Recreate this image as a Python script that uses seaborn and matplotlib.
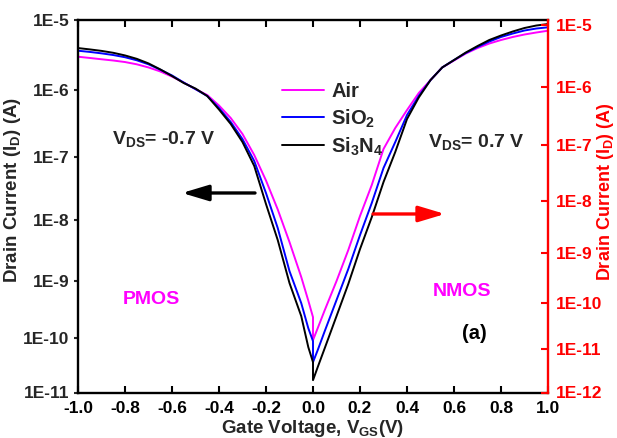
import numpy as np
import pandas as pd
import matplotlib
matplotlib.use("Agg")
import matplotlib.pyplot as plt
from matplotlib.lines import Line2D
import seaborn as sns

# ---------------- data ----------------
v_pmos = [-1.0, -0.95, -0.9, -0.85, -0.8, -0.75, -0.7, -0.65, -0.6, -0.55, -0.5,
          -0.45, -0.4, -0.35, -0.3, -0.25, -0.2, -0.15, -0.1, -0.05, -0.02, 0.0]
v_nmos = [0.0, 0.02, 0.05, 0.1, 0.15, 0.2, 0.25, 0.3, 0.35, 0.4, 0.45, 0.5,
          0.55, 0.6, 0.65, 0.7, 0.75, 0.8, 0.85, 0.9, 0.95, 1.0]

air_pmos = [2.99e-6, 2.87e-6, 2.75e-6, 2.64e-6, 2.51e-6, 2.33e-6, 2.10e-6, 1.84e-6, 1.55e-6,
            1.27e-6, 1.02e-6, 8.36e-7, 5.87e-7, 3.83e-7, 2.21e-7, 1.06e-7, 4.29e-8, 1.50e-8,
            4.46e-9, 1.17e-9, 4.62e-10, 2.38e-10]
sio2_pmos = [3.64e-6, 3.50e-6, 3.34e-6, 3.16e-6, 2.94e-6, 2.66e-6, 2.33e-6, 1.95e-6, 1.61e-6,
             1.27e-6, 1.02e-6, 8.09e-7, 5.39e-7, 3.34e-7, 1.85e-7, 8.58e-8, 2.73e-8, 7.54e-9,
             1.47e-9, 4.18e-10, 1.52e-10, 8.93e-11]
si3n4_pmos = [3.97e-6, 3.80e-6, 3.62e-6, 3.40e-6, 3.12e-6, 2.79e-6, 2.40e-6, 1.97e-6, 1.58e-6,
              1.25e-6, 1.04e-6, 8.09e-7, 5.12e-7, 3.12e-7, 1.67e-7, 7.20e-8, 1.83e-8, 4.81e-9,
              9.23e-10, 2.48e-10, 6.95e-11, 3.70e-11]

air_nmos = [9.30e-11, 1.52e-10, 3.16e-10, 9.98e-10, 3.29e-9, 1.18e-8, 3.65e-8, 1.31e-7,
            2.72e-7, 5.03e-7, 8.95e-7, 1.38e-6, 2.10e-6, 2.64e-6, 3.32e-6, 3.97e-6, 4.60e-6,
            5.16e-6, 5.69e-6, 6.17e-6, 6.58e-6, 6.97e-6]
sio2_nmos = [3.70e-11, 6.13e-11, 1.35e-10, 4.72e-10, 1.59e-9, 5.80e-9, 1.90e-8, 6.70e-8,
             1.67e-7, 4.24e-7, 8.09e-7, 1.38e-6, 2.10e-6, 2.68e-6, 3.38e-6, 4.11e-6, 4.91e-6,
             5.69e-6, 6.37e-6, 7.02e-6, 7.48e-6, 7.78e-6]
si3n4_nmos = [1.71e-11, 2.99e-11, 6.67e-11, 2.48e-10, 8.87e-10, 3.42e-9, 1.13e-8, 4.06e-8,
              1.18e-7, 3.70e-7, 7.69e-7, 1.38e-6, 2.10e-6, 2.68e-6, 3.43e-6, 4.24e-6, 5.16e-6,
              5.97e-6, 6.80e-6, 7.61e-6, 8.24e-6, 8.65e-6]

series_names = ["Air", "SiO$_2$", "Si$_3$N$_4$"]
series_colors = ["#FF00FF", "#0000FF", "#000000"]

x_ticks = [-1.0, -0.8, -0.6, -0.4, -0.2, 0.0, 0.2, 0.4, 0.6, 0.8, 1.0]
x_tick_labels = ["-1.0", "-0.8", "-0.6", "-0.4", "-0.2", "0.0", "0.2", "0.4", "0.6", "0.8", "1.0"]
left_ticks = [1e-5, 1e-6, 1e-7, 1e-8, 1e-9, 1e-10, 1e-11]
left_tick_labels = ["1E-5", "1E-6", "1E-7", "1E-8", "1E-9", "1E-10", "1E-11"]
right_ticks = [1e-5, 1e-6, 1e-7, 1e-8, 1e-9, 1e-10, 1e-11, 1e-12]
right_tick_labels = ["1E-5", "1E-6", "1E-7", "1E-8", "1E-9", "1E-10", "1E-11", "1E-12"]

# ---------------- style ----------------
sns.set_style("ticks")
plt.rcParams["font.family"] = ["Liberation Sans", "DejaVu Sans"]
plt.rcParams["font.weight"] = "bold"
plt.rcParams["axes.labelweight"] = "bold"
plt.rcParams["mathtext.fontset"] = "custom"
plt.rcParams["mathtext.rm"] = "Liberation Sans:bold"
plt.rcParams["mathtext.bf"] = "Liberation Sans:bold"
plt.rcParams["mathtext.it"] = "Liberation Sans:bold"
plt.rcParams["mathtext.default"] = "bf"


def log_scale_funcs(a, b):
    """slightly compressed logarithmic scale (as in the original figure)"""
    def fwd(y):
        y = np.clip(np.asarray(y, dtype=float), 1e-24, None)
        d = -5.0 - np.log10(y)
        return -(a * d + b * d * d)

    def inv(t):
        pos = -np.asarray(t, dtype=float)
        disc = np.clip(a * a + 4 * b * pos, 0, None)
        d = (-a + np.sqrt(disc)) / (2 * b)
        return 10.0 ** (-5.0 - d)
    return fwd, inv


fig = plt.figure(figsize=(6.17, 4.38), dpi=100)
ax = fig.add_axes([78 / 617, 1 - 392.5 / 438, 470 / 617, 373 / 438])
ax.set_facecolor("white")

rows = []
for name, pm, nm in zip(series_names, [air_pmos, sio2_pmos, si3n4_pmos],
                        [air_nmos, sio2_nmos, si3n4_nmos]):
    for v, i in zip(v_pmos + v_nmos, pm + nm):
        rows.append({"V": v, "I": i, "material": name})
df = pd.DataFrame(rows)

for name, col in zip(series_names, series_colors):
    sub = df[df["material"] == name]
    sns.lineplot(x=sub["V"].values, y=sub["I"].values, ax=ax, color=col, lw=1.4,
                 estimator=None, sort=False, label=name)

ax.set_yscale("function", functions=log_scale_funcs(71.8, -1.61))
ax.set_ylim(1e-11, 1e-5)
ax.set_xlim(-1.0, 1.0)
ax.set_yticks(left_ticks)
ax.set_yticklabels(left_tick_labels)
ax.minorticks_off()
ax.set_xticks(x_ticks)
ax.set_xticklabels(x_tick_labels)
ax.set_xticks(np.arange(-0.9, 1.0, 0.2), minor=True)

for sp in ["left", "bottom", "top"]:
    ax.spines[sp].set_linewidth(1.7)
    ax.spines[sp].set_color("black")
ax.spines["right"].set_visible(False)

ax.tick_params(axis="x", which="major", direction="in", length=5, width=1.5,
               top=True, labelsize=12.5, pad=6, colors="black")
ax.tick_params(axis="x", which="minor", direction="in", length=3, width=1.5, top=True)
ax.tick_params(axis="y", which="major", direction="out", length=3, width=1.5,
               labelsize=12.5, pad=3)

ax.set_xlabel("Gate Voltage, V$_{GS}$(V)", fontsize=13.5, fontweight="bold")
ax.xaxis.set_label_coords(0.5, -0.068)
ax.set_ylabel("Drain Current (I$_D$) (A)", fontsize=13.5, fontweight="bold")
ax.yaxis.set_label_coords(-0.118, 0.543)

# right axis
ax2 = ax.twinx()
ax2.set_yscale("function", functions=log_scale_funcs(63.1, -1.51))
ax2.set_ylim(1e-12, 1.22e-5)
ax2.set_yticks(right_ticks)
ax2.set_yticklabels(right_tick_labels)
ax2.minorticks_off()
for sp in ["left", "bottom", "top"]:
    ax2.spines[sp].set_visible(False)
ax2.spines["right"].set_color("#FF0000")
ax2.spines["right"].set_linewidth(1.7)
ax2.tick_params(axis="y", which="major", direction="in", length=5, width=1.5,
                colors="#FF0000", labelsize=12.5, pad=6)
ax2.set_ylabel("Drain Current (I$_D$) (A)", fontsize=13, fontweight="bold", color="#FF0000")
ax2.yaxis.set_label_coords(1.100, 0.5375)

# legend
handles = [Line2D([], [], color=c, lw=1.4) for c in series_colors]
leg = ax.legend(handles, series_names, loc="upper left", bbox_to_anchor=(0.434, 0.832),
                frameon=False, fontsize=14.5, handlelength=2.1, handletextpad=0.35,
                borderpad=0, borderaxespad=0, labelspacing=0.3)

# annotations
ax.text(0.072, 0.666, "V$_{DS}$= -0.7 V", transform=ax.transAxes, fontsize=14,
        fontweight="bold", ha="left", va="baseline")
ax.text(0.745, 0.658, "V$_{DS}$= 0.7 V", transform=ax.transAxes, fontsize=14,
        fontweight="bold", ha="left", va="baseline")
ax.text(0.0957, 0.237, "PMOS", transform=ax.transAxes, fontsize=14, color="#FF00FF",
        fontweight="bold", ha="left", va="baseline")
ax.text(0.755, 0.2587, "NMOS", transform=ax.transAxes, fontsize=14, color="#FF00FF",
        fontweight="bold", ha="left", va="baseline")
ax.text(0.816, 0.1434, "(a)", transform=ax.transAxes, fontsize=14.5, color="black",
        fontweight="bold", ha="left", va="baseline")

ax.annotate("", xy=(0.2213, 0.5349), xytext=(0.3766, 0.5349),
            xycoords="axes fraction", textcoords="axes fraction",
            arrowprops=dict(arrowstyle="-|>,head_length=1.6,head_width=0.48",
                            color="black", lw=2.4, mutation_scale=10,
                            shrinkA=0, shrinkB=0))
ax.annotate("", xy=(0.7809, 0.4786), xytext=(0.6277, 0.4786),
            xycoords="axes fraction", textcoords="axes fraction",
            arrowprops=dict(arrowstyle="-|>,head_length=1.6,head_width=0.48",
                            color="#FF0000", lw=2.4, mutation_scale=10,
                            shrinkA=0, shrinkB=0))

fig.savefig("out.png", dpi=100, facecolor="white")
